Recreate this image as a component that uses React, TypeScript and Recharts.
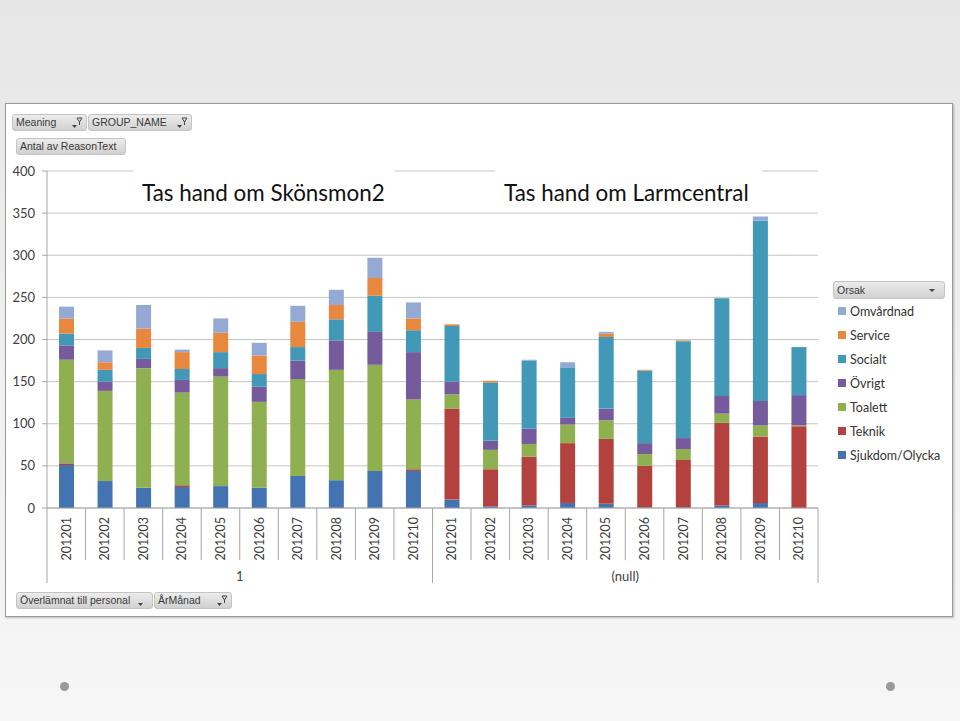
import React from "react";
import { Bar, BarChart, CartesianGrid, XAxis, YAxis } from "recharts";

const months = ["201201", "201202", "201203", "201204", "201205", "201206", "201207", "201208", "201209", "201210"];
const groups = ["1", "(null)"];

// stacked bottom -> top
const sjukdom = [51, 32, 24, 25, 26, 24, 38, 33, 44, 44, 10, 2, 3, 6, 5, 1, 1, 3, 6, 0];
const teknik = [2, 0, 0, 2, 0, 0, 0, 0, 0, 2, 108, 44, 58, 71, 77, 49, 56, 98, 79, 97];
const toalett = [123, 107, 142, 110, 130, 102, 115, 131, 126, 83, 17, 23, 15, 22, 22, 14, 13, 11, 13, 1];
const ovrigt = [17, 11, 11, 15, 10, 18, 22, 35, 39, 56, 15, 11, 18, 8, 14, 13, 13, 21, 29, 36];
const socialt = [14, 14, 13, 13, 19, 15, 16, 25, 43, 26, 66, 69, 81, 60, 85, 86, 115, 116, 214, 57];
const service = [18, 9, 23, 20, 23, 22, 30, 17, 21, 14, 2, 2, 0, 0, 4, 1, 1, 0, 0, 0];
const omvardnad = [14, 14, 28, 3, 17, 15, 19, 18, 24, 19, 0, 0, 1, 6, 2, 0, 0, 0, 5, 0];

const yTicks = [0, 50, 100, 150, 200, 250, 300, 350, 400];

const series = [
  { key: "sjukdom", name: "Sjukdom/Olycka", color: "#4473B2", values: sjukdom },
  { key: "teknik", name: "Teknik", color: "#B3423F", values: teknik },
  { key: "toalett", name: "Toalett", color: "#8EB050", values: toalett },
  { key: "ovrigt", name: "Övrigt", color: "#765B9C", values: ovrigt },
  { key: "socialt", name: "Socialt", color: "#4299B7", values: socialt },
  { key: "service", name: "Service", color: "#E8883F", values: service },
  { key: "omvardnad", name: "Omvårdnad", color: "#95A9D5", values: omvardnad },
];

const data = groups.flatMap((g, gi) =>
  months.map((m, mi) => {
    const row: Record<string, string | number> = { key: `${g}-${m}`, month: m, group: g };
    series.forEach((s) => {
      row[s.key] = s.values[gi * months.length + mi];
    });
    return row;
  })
);

const FONT = "Lato, 'Open Sans', sans-serif";
const BTN_FONT = "'Liberation Sans', Arial, sans-serif";
const PLOT_W = 771;
const BAND = PLOT_W / data.length;
const AXIS_GRAY = "#a6a6a6";

const MonthTick = (props: any) => {
  const { x, y, index } = props;
  const row = data[index];
  if (!row) return null;
  const left = x - BAND / 2;
  const isGroupStart = index % months.length === 0;
  const isLast = index === data.length - 1;
  const isMid = index % months.length === months.length / 2 - 1;
  return (
    <g>
      <line x1={left} x2={left} y1={y} y2={y + (isGroupStart ? 75 : 52)} stroke={AXIS_GRAY} />
      {isLast && <line x1={x + BAND / 2} x2={x + BAND / 2} y1={y} y2={y + 75} stroke={AXIS_GRAY} />}
      <text
        transform={`translate(${x},${y + 9}) rotate(-90)`}
        textAnchor="end"
        dominantBaseline="central"
        fontSize={12.5}
        fontFamily={FONT}
        fill="#404040"
      >
        {row.month}
      </text>
      {isMid && (
        <text x={x + BAND / 2} y={y + 73} textAnchor="middle" fontSize={13} fontFamily={FONT} fill="#404040">
          {row.group}
        </text>
      )}
    </g>
  );
};

const btnStyle: React.CSSProperties = {
  position: "absolute",
  height: 17,
  boxSizing: "border-box",
  background: "linear-gradient(#ececec, #d0d0d0)",
  border: "1px solid #c4c4c4",
  borderRadius: 3,
  fontFamily: BTN_FONT,
  fontSize: 10.5,
  color: "#3a3a3a",
  lineHeight: "15px",
  paddingLeft: 3,
  whiteSpace: "nowrap",
};

const FilterButton = ({ label, left, top, width, icon }: { label: string; left: number; top: number; width: number; icon?: "filter" | "arrow" }) => (
  <div style={{ ...btnStyle, left, top, width }}>
    {label}
    {icon && (
      <svg width={14} height={14} style={{ position: "absolute", right: 3, top: 1 }}>
        <polygon points="3,9 8,9 5.5,12" fill="#444" />
        {icon === "filter" && <path d="M8,2 L13,2 L10.5,6 Z M10.5,6 L10.5,9" stroke="#444" fill="none" strokeWidth={1} />}
      </svg>
    )}
  </div>
);

const ChartLegend = () => (
  <div style={{ position: "absolute", left: 833, top: 281, width: 112, fontFamily: FONT }}>
    <div style={{ ...btnStyle, position: "relative", height: 18, lineHeight: "16px" }}>
      Orsak
      <svg width={10} height={10} style={{ position: "absolute", right: 6, top: 4 }}>
        <polygon points="1,3 7,3 4,6" fill="#444" />
      </svg>
    </div>
    <div>
      {[...series].reverse().map((s) => (
        <div key={s.key} style={{ height: 24, display: "flex", alignItems: "center", fontSize: 12.5, color: "#333" }}>
          <span style={{ width: 8, height: 8, background: s.color, display: "inline-block", marginLeft: 5, marginRight: 4 }} />
          {s.name}
        </div>
      ))}
    </div>
  </div>
);

const titleStyle: React.CSSProperties = {
  position: "absolute",
  top: 165,
  height: 44,
  background: "#fff",
  fontFamily: FONT,
  fontSize: 22.4,
  color: "#111",
  lineHeight: "56px",
  paddingLeft: 9,
  boxSizing: "border-box",
  whiteSpace: "nowrap",
};

const App: React.FC = () => {
  return (
    <div
      style={{
        position: "absolute",
        left: 0,
        top: 0,
        width: 960,
        height: 721,
        overflow: "hidden",
        background: "linear-gradient(to bottom, #e6e6e6 0%, #f0f0f0 50%, #f6f6f6 100%)",
      }}
    >
      <div
        style={{
          position: "absolute",
          left: 5,
          top: 103,
          width: 948,
          height: 514,
          boxSizing: "border-box",
          background: "#fff",
          border: "1px solid #9a9a9a",
          boxShadow: "1px 1px 2px rgba(0,0,0,0.25)",
        }}
      />
      <div style={{ position: "absolute", left: 0, top: 0 }}>
        <BarChart
          width={960}
          height={721}
          data={data}
          margin={{ top: 171, right: 142, bottom: 157, left: 7 }}
          barSize={15}
        >
          <CartesianGrid vertical={false} stroke="#c6c6c6" />
          <XAxis
            dataKey="key"
            interval={0}
            height={56}
            tickSize={0}
            tickMargin={0}
            stroke={AXIS_GRAY}
            tick={<MonthTick />}
          />
          <YAxis
            domain={[0, 400]}
            ticks={yTicks}
            width={40}
            tickSize={5}
            tickMargin={7}
            stroke={AXIS_GRAY}
            tick={{ fill: "#404040", fontSize: 13, fontFamily: FONT }}
          />
          {series.map((s) => (
            <Bar key={s.key} dataKey={s.key} name={s.name} stackId="a" fill={s.color} isAnimationActive={false} />
          ))}
        </BarChart>
      </div>

      <ChartLegend />

      {/* title boxes over the 400 gridline */}
      <div style={{ ...titleStyle, left: 133, width: 262 }}>Tas hand om Skönsmon2</div>
      <div style={{ ...titleStyle, left: 495, width: 267 }}>Tas hand om Larmcentral</div>

      <FilterButton label="Meaning" left={12} top={114} width={75} icon="filter" />
      <FilterButton label="GROUP_NAME" left={88} top={114} width={104} icon="filter" />
      <FilterButton label="Antal av ReasonText" left={16} top={138} width={110} />
      <FilterButton label="Överlämnat till personal" left={16} top={592} width={137} icon="arrow" />
      <FilterButton label="ÅrMånad" left={154} top={592} width={78} icon="filter" />

      <div style={{ position: "absolute", left: 60, top: 682, width: 9, height: 9, borderRadius: "50%", background: "#9a9a9a" }} />
      <div style={{ position: "absolute", left: 886, top: 682, width: 9, height: 9, borderRadius: "50%", background: "#9a9a9a" }} />
    </div>
  );
};

export default App;
